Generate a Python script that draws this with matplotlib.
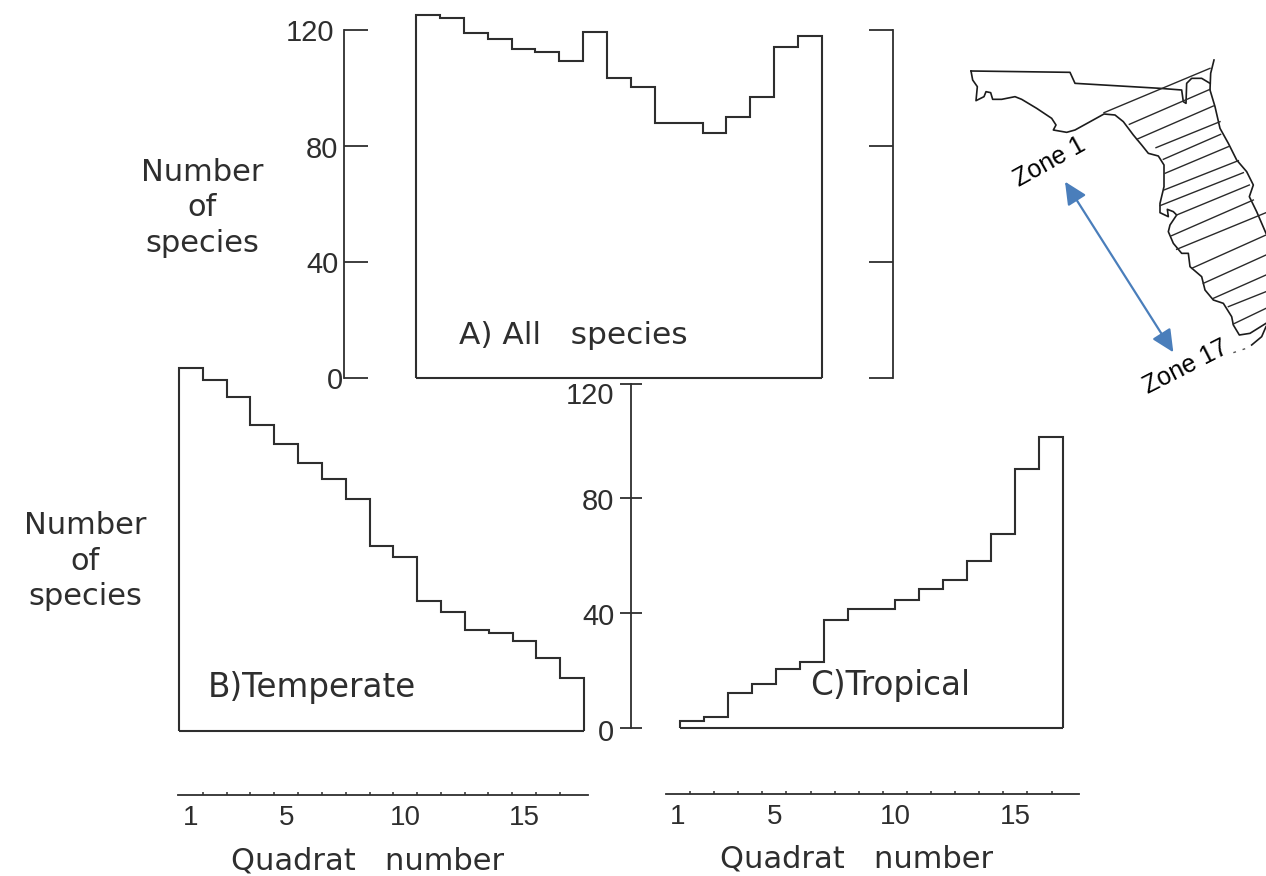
import matplotlib
matplotlib.use("Agg")
import matplotlib.pyplot as plt
from matplotlib.transforms import ScaledTranslation

W, H = 1266, 876
INK = "#2e2e2e"

# Species counts per quadrat
all_species = [125.3, 124, 119, 117, 113.6, 112.5, 109.4, 119.4, 103.4, 100.5,
               87.9, 87.9, 84.4, 90, 96.8, 114, 118]
temperate = [126.4, 122.3, 116.3, 106.6, 99.9, 93.3, 87.7, 81, 64.5, 60.5,
             45.3, 41.3, 35.3, 34, 31.3, 25.5, 18.3]
tropical = [2.3, 4, 12.2, 15.5, 20.5, 23, 37.6, 41.3, 41.3, 44.5,
            48.6, 51.5, 58.3, 67.6, 90.2, 101.5]
y_ticks = [0, 40, 80, 120]
x_labels = [1, 5, 10, 15]
x_minor = [1.5, 2.5, 3.5, 4.5, 5.5, 6.5, 7.5, 8.5, 9.5, 10.5, 11.5, 12.5, 13.5, 14.5, 15.5, 16.5]

# Map outline (map-local units)
map_state = [(762, 60), (752, 100), (750, 150), (765, 200), (780, 265), (805, 310), (830, 360),
             (860, 395), (880, 435), (868, 470), (890, 515), (918, 580)]
map_north = [(33, 93), (330, 97), (345, 130), (600, 145), (665, 150), (670, 185), (678, 190),
             (680, 130), (695, 115), (725, 115), (750, 130)]
map_gulf = [(33, 93), (38, 120), (52, 140), (48, 182), (72, 170), (78, 155), (92, 158), (98, 178),
            (125, 178), (165, 170), (185, 178), (230, 205), (275, 235), (288, 255), (280, 270),
            (320, 277), (345, 270), (385, 248), (432, 222), (465, 225), (490, 245), (520, 285),
            (545, 315), (565, 340), (595, 348), (612, 375), (612, 440), (600, 490), (600, 518),
            (625, 530), (622, 508), (640, 515), (650, 525), (630, 555), (625, 575), (640, 610),
            (665, 640), (685, 640), (690, 680), (725, 710), (735, 750), (760, 780), (790, 790),
            (815, 830), (820, 855), (838, 885), (870, 880), (918, 850)]
map_keys = [(875, 915), (905, 890), (918, 860)]
map_keys_dotted = [(820, 938), (862, 924)]
map_zones = [((432, 218), (750, 85)), ((508, 253), (750, 148)), ((530, 298), (760, 198)),
             ((588, 323), (780, 245)), ((610, 358), (782, 283)), ((615, 400), (805, 320)),
             ((612, 450), (835, 362)), ((600, 497), (850, 398)), ((650, 525), (868, 435)),
             ((635, 587), (880, 480)), ((650, 628), (918, 518)), ((695, 685), (918, 585)),
             ((730, 730), (918, 645)), ((760, 775), (918, 705)), ((805, 800), (918, 755)),
             ((820, 852), (918, 805))]
map_arrow = [(315, 425), (640, 937)]

plt.rcParams["font.family"] = ["Liberation Sans", "DejaVu Sans"]
fig = plt.figure(figsize=(W / 100, H / 100), dpi=100, facecolor="white")


def px_axes(x0, x1, y_top, y_bot):
    ax = fig.add_axes([x0 / W, 1 - y_bot / H, (x1 - x0) / W, (y_bot - y_top) / H])
    ax.patch.set_alpha(0)
    for s in ax.spines.values():
        s.set_visible(False)
        s.set_color(INK)
        s.set_linewidth(1.3)
    ax.set_xticks([])
    ax.set_yticks([])
    return ax


def label(x, y, s, size=22, **kw):
    fig.text(x / W, 1 - y / H, s, ha="center", va="center", color=INK, fontsize=size,
             family="DejaVu Sans", **kw)


def bars(ax, values, first_edge):
    edges = [first_edge + i for i in range(len(values) + 1)]
    ax.stairs(values, edges, baseline=0, fill=False, color=INK, linewidth=1.5, clip_on=False)
    ax.hlines(0, edges[0], edges[-1], color=INK, linewidth=1.5, clip_on=False)


def nudge(ax, shifts):
    for tick, (dx, dy) in zip(ax.yaxis.get_major_ticks(), shifts):
        tick.label1.set_transform(tick.label1.get_transform()
                                  + ScaledTranslation(dx / 100, dy / 100, fig.dpi_scale_trans))


def quadrat_axis(x0, x1, y, left, right):
    ax = px_axes(x0, x1, y - 10, y)
    ax.set_xlim(left, right)
    ax.set_ylim(0, 1)
    ax.spines["bottom"].set_visible(True)
    ax.set_xticks(x_labels)
    ax.set_xticklabels([str(v) for v in x_labels], fontsize=20, color=INK)
    ax.set_xticks(x_minor, minor=True)
    ax.tick_params(axis="x", which="major", length=0, pad=7)
    ax.tick_params(axis="x", which="minor", direction="in", length=2.5, width=1.1, color=INK)


# Panel A
bin_a = (822 - 416) / 17
scale_a = (378 - 30) / 120
ax_a = px_axes(344, 893, 378 - 130 * scale_a, 378)
ax_a.set_xlim(0.5 - (416 - 344) / bin_a, 17.5 + (893 - 822) / bin_a)
ax_a.set_ylim(0, 130)
bars(ax_a, all_species, 0.5)
ax_a.spines["left"].set_visible(True)
ax_a.spines["right"].set_visible(True)
ax_a.spines["left"].set_bounds(0, 120)
ax_a.spines["right"].set_bounds(0, 120)
ax_a.set_yticks(y_ticks)
ax_a.set_yticklabels([str(v) for v in y_ticks], fontsize=21, color=INK)
ax_a.tick_params(axis="y", left=True, right=True, direction="in", length=17, width=1.3,
                 color=INK, pad=8)
nudge(ax_a, [(10, 0), (6, 0), (5, -1), (1, 0)])

# Panel B
ax_b = px_axes(179, 584, 731 - 130 * 2.87, 731)
ax_b.set_xlim(0.5, 17.5)
ax_b.set_ylim(0, 130)
bars(ax_b, temperate, 0.5)

# Panel C
bin_c = (1063 - 680) / 16
ax_c = px_axes(631, 1063, 728 - 130 * 2.87, 728)
ax_c.set_xlim(0.5 - (680 - 631) / bin_c, 16.5)
ax_c.set_ylim(0, 130)
bars(ax_c, tropical, 0.5)
ax_c.spines["left"].set_visible(True)
ax_c.spines["left"].set_bounds(0, 120)
ax_c.set_yticks(y_ticks)
ax_c.set_yticklabels([str(v) for v in y_ticks], fontsize=21, color=INK)
ax_c.tick_params(axis="y", direction="inout", length=16, width=1.3, color=INK, pad=4)
nudge(ax_c, [(0, -2), (0, -1), (0, -1), (0, -9)])

# Quadrat axes
quadrat_axis(178, 588, 795, 1 - (191 - 178) / 23.8, 1 + (588 - 191) / 23.8)
quadrat_axis(666, 1079, 794, 1 - (678 - 666) / 24.1, 1 + (1079 - 678) / 24.1)

# Text
label(202, 208, "Number\nof\nspecies", linespacing=1.29)
label(85, 561, "Number\nof\nspecies", linespacing=1.29)
label(573, 335, "A) All   species", size=22.5)
label(312, 688, "B)Temperate", size=23.5)
label(890, 685, "C)Tropical", size=23.5)
label(368, 861, "Quadrat   number")
label(857, 859, "Quadrat   number")

# Map
ax_m = px_axes(960, 1266, 40, 410)
ax_m.set_xlim(0, 918)
ax_m.set_ylim(1110, 0)
for path in (map_state, map_north, map_gulf, map_keys):
    ax_m.plot(*zip(*path), color="#1c1c1c", linewidth=1.2)
for seg in map_zones:
    ax_m.plot(*zip(*seg), color="#2a2a2a", linewidth=1.0)
ax_m.plot(*zip(*map_keys_dotted), color="#555555", linewidth=1, linestyle=(0, (2, 5)))
ax_m.annotate("", xy=map_arrow[1], xytext=map_arrow[0],
              arrowprops=dict(arrowstyle="<|-|>,head_length=0.8,head_width=0.38", color="#4a7ebb",
                              linewidth=1.6, shrinkA=0, shrinkB=0, mutation_scale=17))
fig.text(1050 / W, 1 - 162 / H, "Zone 1", rotation=29, ha="center", va="center",
         rotation_mode="anchor", fontsize=18, color="black")
fig.text(1186 / W, 1 - 367 / H, "Zone 17", rotation=27, ha="center", va="center",
         rotation_mode="anchor", fontsize=18, color="black")

fig.savefig("out.png", dpi=100)
